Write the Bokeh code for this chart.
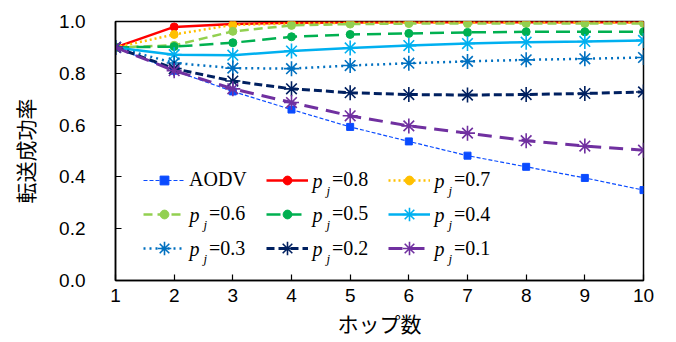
from bokeh.plotting import figure
from bokeh.models import (Range1d, FixedTicker, PrintfTickFormatter, Legend, LegendItem, Label)
from bokeh.embed import file_html
from bokeh.resources import INLINE

hops = [1, 2, 3, 4, 5, 6, 7, 8, 9, 10]
aodv = [0.90, 0.81, 0.73, 0.66, 0.593, 0.537, 0.482, 0.439, 0.396, 0.349]
p08 = [0.90, 0.979, 0.99, 0.995, 0.996, 0.997, 0.997, 0.997, 0.997, 0.997]
p07 = [0.90, 0.95, 0.987, 0.992, 0.995, 0.996, 0.996, 0.996, 0.996, 0.996]
p06 = [0.90, 0.908, 0.962, 0.985, 0.99, 0.992, 0.992, 0.992, 0.992, 0.992]
p05 = [0.90, 0.903, 0.918, 0.941, 0.95, 0.954, 0.958, 0.96, 0.96, 0.96]
p04 = [0.90, 0.872, 0.87, 0.886, 0.898, 0.907, 0.915, 0.92, 0.923, 0.927]
p03 = [0.90, 0.84, 0.82, 0.818, 0.83, 0.839, 0.846, 0.852, 0.856, 0.861]
p02 = [0.90, 0.818, 0.77, 0.74, 0.725, 0.718, 0.716, 0.718, 0.722, 0.728]
p01 = [0.90, 0.81, 0.74, 0.687, 0.636, 0.597, 0.569, 0.54, 0.519, 0.503]

y_ticks = [0.0, 0.2, 0.4, 0.6, 0.8, 1.0]
x_label = "ホップ数"
y_label = "転送成功率"

# (key, values, label text, color, dash, width, marker, marker size)
series = [
    ("AODV", aodv, "AODV", "#0A4BFF", "4 2", 1.2, "square", 7),
    ("0.8", p08, "=0.8", "#FF0000", "solid", 2.5, "circle", 8),
    ("0.7", p07, "=0.7", "#FFC000", "2 3", 2.5, "circle", 8),
    ("0.6", p06, "=0.6", "#92D050", "9 5", 2.5, "circle", 8),
    ("0.5", p05, "=0.5", "#00B050", "14 7", 2.5, "circle", 8),
    ("0.4", p04, "=0.4", "#00B0F0", "solid", 2.5, "asterisk", 15),
    ("0.3", p03, "=0.3", "#0070C0", "2 4", 2.5, "asterisk", 15),
    ("0.2", p02, "=0.2", "#002060", "8 4", 3, "asterisk", 15),
    ("0.1", p01, "=0.1", "#7030A0", "14 8", 3, "asterisk", 15),
]

SERIF = "Liberation Serif"
FW, FH = 528, 259
p = figure(width=676, height=342, output_backend="svg", toolbar_location=None,
           x_range=Range1d(1, 10), y_range=Range1d(0, 1),
           min_border_left=115, min_border_right=33, min_border_top=21, min_border_bottom=62)
p.background_fill_color = "white"
p.border_fill_color = "white"
p.outline_line_color = "black"
p.outline_line_width = 1.5
p.xgrid.visible = False
p.ygrid.visible = False

for ax in (p.xaxis[0], p.yaxis[0]):
    ax.axis_line_color = "black"
    ax.axis_line_width = 1.5
    ax.major_tick_in = 6
    ax.major_tick_out = 0
    ax.major_tick_line_color = "black"
    ax.major_tick_line_width = 1.2
    ax.minor_tick_line_color = None
    ax.major_label_text_font = "Liberation Sans"
    ax.major_label_text_font_size = "19px"
    ax.major_label_text_color = "black"
    ax.axis_label_text_font = "Noto Sans CJK JP"
    ax.axis_label_text_font_size = "21px"
    ax.axis_label_text_font_style = "normal"
    ax.axis_label_text_color = "black"

p.xaxis.ticker = FixedTicker(ticks=hops)
p.yaxis.ticker = FixedTicker(ticks=y_ticks)
p.yaxis.formatter = PrintfTickFormatter(format="%.1f")
p.xaxis.axis_label = x_label
p.yaxis.axis_label = y_label
p.yaxis.major_label_standoff = 30
p.yaxis.axis_label_standoff = 16
p.xaxis.major_label_standoff = 8
p.xaxis.axis_label_standoff = 3

rend = {}
info = {}
for key, vals, lab, color, dash, w, marker, ms in series:
    lr = p.line(hops, vals, line_color=color, line_width=w, line_dash=dash)
    if marker == "asterisk":
        sr = p.scatter(hops, vals, marker=marker, size=ms, line_color=color, line_width=1.6)
    else:
        sr = p.scatter(hops, vals, marker=marker, size=ms, fill_color=color, line_color=color)
    rend[key] = [lr, sr]
    info[key] = (lab, marker)

def fx(px):
    return 1 + px / FW * 9

def fy(py):
    return py / FH

GW = 42
rows_up = [100, 66, 32]
col_x = [28, 151, 273]
layout = [["AODV", "0.8", "0.7"], ["0.6", "0.5", "0.4"], ["0.3", "0.2", "0.1"]]

for r, row in enumerate(layout):
    for c, key in enumerate(row):
        lab, marker = info[key]
        gh = 34 if marker == "asterisk" else 22
        standoff = 4 if key == "AODV" else 24
        yc = rows_up[r]
        lg = Legend(items=[LegendItem(label=lab, renderers=rend[key])],
                    location=(col_x[c], yc - gh / 2), orientation="vertical",
                    glyph_width=GW, glyph_height=gh, label_height=gh, spacing=0,
                    padding=0, margin=0, label_standoff=standoff,
                    label_text_font=SERIF, label_text_font_size="20px",
                    label_text_color="black",
                    border_line_alpha=0, background_fill_alpha=0)
        p.add_layout(lg, "center")
        if key != "AODV":
            gx = col_x[c] + GW
            p.add_layout(Label(x=fx(gx + 4), y=fy(yc), text="p", text_font=SERIF,
                               text_font_style="italic", text_font_size="20px",
                               text_baseline="middle", text_align="left", text_color="black"))
            p.add_layout(Label(x=fx(gx + 18), y=fy(yc - 10), text="j", text_font=SERIF,
                               text_font_style="italic", text_font_size="13px",
                               text_baseline="alphabetic", text_align="left", text_color="black"))

open("out.html", "w").write(file_html(p, INLINE))
